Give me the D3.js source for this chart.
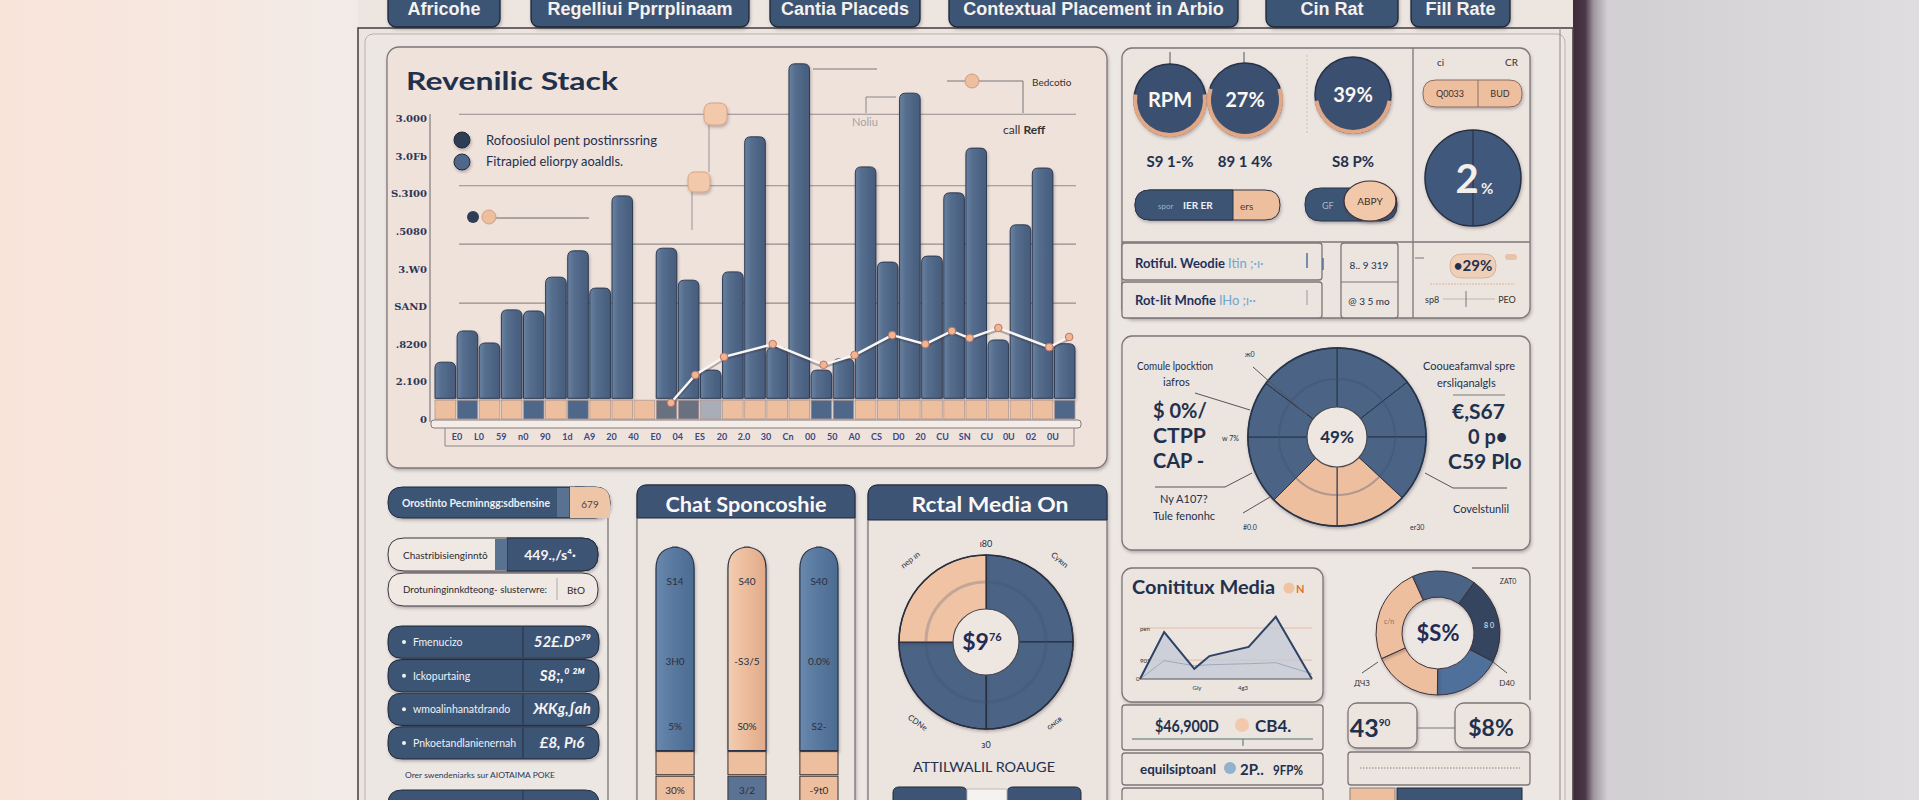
<!DOCTYPE html>
<html>
<head>
<meta charset="utf-8">
<script src="https://cdn.jsdelivr.net/npm/d3@7"></script>
<style>
  html, body { margin: 0; padding: 0; overflow: hidden; background: #ece5e0; }
  svg { display: block; font-family: Lato, "Open Sans", sans-serif; }
</style>
</head>
<body>
<div id="chart"></div>
<script>
// ---- data ----
const tabLabels = ["Africohe", "Regelliui Pprrplinaam", "Cantia Placeds", "Contextual Placement in Arbio", "Cin Rat", "Fill Rate"];

const stackTicks = ["0", "2.100", ".8200", "SAND", "3.W0", ".5080", "S.3I00", "3.0Fb", "3.000"];
const stackLabels = ["E0", "L0", "59", "n0", "90", "1d", "A9", "20", "40", "E0", "04", "ES", "20", "2.0", "30", "Cn", "00", "50", "A0", "CS", "D0", "20", "CU", "SN", "CU", "0U", "02", "0U"];
const stackBars = [1.51, 2.34, 2.02, 2.90, 2.87, 3.77, 4.47, 3.48, 5.93, 0, 4.54, 3.69, 1.3, 3.91, 7.50, 1.9, 9.44, 1.3, 1.6, 6.70, 4.17, 8.66, 4.33, 6.01, 7.20, 2.1, 5.16, 6.67, 2.0];
const stackBase = ["p", "b", "p", "p", "b", "p", "b", "p", "p", "p", "g", "g", "l", "p", "p", "p", "p", "b", "b", "p", "p", "p", "p", "p", "p", "p", "p", "p", "b"];
const stackGrid = [8.1, 6.2, 4.65, 3.08];
const lineSlots = [10.2, 11.3, 12.6, 14.8, 17.1, 18.5, 20.2, 21.7, 22.9, 23.7, 25.0, 27.3, 28.2];
const lineValues = [0.43, 1.17, 1.65, 1.99, 1.44, 1.70, 2.23, 1.99, 2.34, 2.15, 2.42, 1.91, 2.18];
const legendLabels = ["Rofoosiulol pent postinrssring", "Fitrapied eliorpy aoaldls."];

const kpiLabels = ["RPM", "27%", "39%"];
const kpiShares = [0.55, 0.6, 0.45];
const kpiSubs = ["S9 1-%", "89 1 4%", "S8 P%"];

const placeSlices = [52, 38, 43, 47, 45, 45, 37, 53];
const placeKinds = ["n", "n", "n", "p", "p", "n", "n", "n"];

const listHead = [["Orostinto Pecminngg:sdbensine", "679"], ["Chastribisienginntô", "449.,/s⁴·"], ["Drotuninginnkdteong- slusterwre:", "BtO"]];
const listLabels = ["Fmenucizo", "Ickopurtaing", "wmoalinhanatdrando", "Pnkoetandlanienernah"];
const listValues = ["52£.D°⁷⁹", "S8;,⁰ ²ᴹ", "ЖKg,∫ah", "£8, Pı6"];

const chatCols = ["A", "B", "C"];
const chatBase = [11.5, 11.5, 11.5];
const chatMid = [9.5, 9.5, 9.5];
const chatMain = [79, 79, 79];
const chatMainKind = ["b", "p", "b"];
const chatBaseKind = ["p", "n", "p"];
const chatText = [["S14", "3H0", "5%"], ["S40", "-S3/5", "S0%"], ["S40", "0.0%", "S2-"]];
const chatBaseText = ["30%", "3/2", "-9t0"];
const chatTextAt = [87, 56, 31];

const retailSlices = [25, 25, 25, 25];
const retailKinds = ["n", "n", "n", "p"];

const mediaX = [0, 8, 18, 23, 36, 45, 57];
const mediaY = [0, 92, 20, 45, 63, 122, 0];
const mediaY2 = [0, 36, 26, 28, 30, 32, 10];
const mediaTicks = [[37, "901"], [100, "pen"]];

const ringSlices = [60, 82, 63, 65, 90];
const ringKinds = ["n", "d", "b", "p", "p"];

// ---- setup ----
const W = 1919, H = 800;
const NAVY = "#3d5475", INK = "#22304c", LINE = "#7d7578", PANEL = "#ebe4df";
const PEACH = "#eebf9f", SLATE = "#4b6385", DARK = "#34445e";
const kindColor = { p: PEACH, b: "#4f6788", n: SLATE, g: "#69707f", l: "#a8adb8", d: DARK };

const svg = d3.select("#chart").append("svg").attr("width", W).attr("height", H);
const defs = svg.append("defs");

function grad(id, stops, x2 = 1, y2 = 0, x1 = 0) {
    const g = defs.append("linearGradient").attr("id", id)
        .attr("x1", x1).attr("y1", 0).attr("x2", x2).attr("y2", y2);
    stops.forEach(s => g.append("stop").attr("offset", s[0]).attr("stop-color", s[1]));
}
grad("bgLeft", [[0, "#f9e4da"], [0.6, "#f6e8e1"], [1, "#f1ebe7"]]);
grad("bgRight", [[0, "#3f2a3a"], [0.035, "#4a3646"], [0.06, "#9f97a0"], [0.1, "#d2cfd3"], [1, "#dfdde0"]]);
grad("barGrad", [[0, "#6a82a2"], [0.3, "#566e8e"], [1, "#465c7c"]]);
grad("steelGrad", [[0, "#6a89ae"], [0.4, "#5a7aa1"], [1, "#4d6b92"]]);
grad("peachGrad", [[0, "#f3cdb2"], [0.5, "#ecbb9b"], [1, "#e0aa89"]]);

const sh = defs.append("filter").attr("id", "soft").attr("x", "-10%").attr("y", "-10%").attr("width", "130%").attr("height", "130%");
sh.append("feDropShadow").attr("dx", 1).attr("dy", 2).attr("stdDeviation", 1.6)
    .attr("flood-color", "#3a2a35").attr("flood-opacity", 0.3);

function rr(x, y, w, h, a, b, c, d) {
    return `M${x + a},${y}H${x + w - b}Q${x + w},${y} ${x + w},${y + b}V${y + h - c}Q${x + w},${y + h} ${x + w - c},${y + h}` +
        `H${x + d}Q${x},${y + h} ${x},${y + h - d}V${y + a}Q${x},${y} ${x + a},${y}Z`;
}
function box(x, y, w, h, r, fill, stroke, shadow) {
    const b = svg.append("rect").attr("x", x).attr("y", y).attr("width", w).attr("height", h).attr("rx", r)
        .attr("fill", fill || PANEL).attr("stroke", stroke || LINE).attr("stroke-width", 1.3);
    if (shadow !== false) b.attr("filter", "url(#soft)");
    return b;
}
function txt(x, y, s, o = {}) {
    const t = svg.append("text").attr("x", x).attr("y", y).text(s)
        .attr("font-size", o.size || 11).attr("font-weight", o.weight || 400)
        .attr("fill", o.fill || INK).attr("text-anchor", o.anchor || "start");
    if (o.family) t.attr("font-family", o.family);
    if (o.len) t.attr("textLength", o.len).attr("lengthAdjust", "spacingAndGlyphs");
    if (o.rotate) t.attr("transform", `rotate(${o.rotate},${x},${y})`);
    return t;
}
function seg(pts, stroke, wdt) {
    svg.append("path").attr("d", d3.line()(pts)).attr("fill", "none")
        .attr("stroke", stroke || "#6b6668").attr("stroke-width", wdt || 1);
}

// ---- background & frame ----
svg.append("rect").attr("width", W).attr("height", H).attr("fill", "#ece5e0");
svg.append("rect").attr("width", 358).attr("height", H).attr("fill", "url(#bgLeft)");
svg.append("rect").attr("x", 1573).attr("width", W - 1573).attr("height", H).attr("fill", "url(#bgRight)");
svg.append("rect").attr("x", 358).attr("y", 28).attr("width", 1215).attr("height", 800)
    .attr("fill", PANEL).attr("stroke", "#4e4549").attr("stroke-width", 1.6);
svg.append("rect").attr("x", 365).attr("y", 34).attr("width", 1200).attr("height", 800).attr("rx", 8)
    .attr("fill", "#ede7e3").attr("stroke", "#b9b0ad");
svg.append("line").attr("x1", 1560).attr("x2", 1560).attr("y1", 28).attr("y2", H).attr("stroke", "#8f8589");

// ---- tabs ----
const tabSpans = [[388, 500], [531, 749], [770, 920], [949, 1238], [1266, 1398], [1411, 1510]];
tabLabels.forEach((t, i) => {
    const [a, b] = tabSpans[i];
    box(a, -8, b - a, 35, 8, NAVY, "#1d2638");
    txt((a + b) / 2, 15, t, { size: 18, weight: 700, fill: "#f4f1ee", anchor: "middle", family: "'Liberation Sans Narrow', 'Liberation Sans', sans-serif" });
});

// ---- Revenue stack chart ----
box(387, 47, 720, 421, 12, "#efe2db");
txt(406, 90, "Revenilic Stack", { size: 25, weight: 700, len: 212 });

const x = d3.scaleBand().domain(d3.range(stackBars.length)).range([435, 1075]).paddingInner(0.07);
const y = d3.scaleLinear().domain([0, 8]).range([419, 118]);
const bw = x.bandwidth();

// Draw Grid
svg.selectAll(".grid").data(stackGrid).enter().append("line")
    .attr("x1", 459).attr("x2", 1076).attr("y1", d => y(d)).attr("y2", d => y(d))
    .attr("stroke", "#7d7678").attr("stroke-width", 1.2).attr("opacity", 0.8);

svg.selectAll(".ytick").data(stackTicks).enter().append("text")
    .attr("x", 427).attr("y", (d, i) => y(i) + 4).attr("text-anchor", "end")
    .attr("font-size", 10).attr("font-weight", 700).attr("fill", "#2c3656")
    .attr("font-family", "'DejaVu Serif', serif").text(d => d);
svg.append("line").attr("x1", 430).attr("x2", 430).attr("y1", 114).attr("y2", 422).attr("stroke", "#6d6668");

// annotation bits
seg([[813, 69], [877, 69]], "#777");
seg([[947, 81], [1023, 81], [1023, 113]], "#777");
svg.append("circle").attr("cx", 972).attr("cy", 81).attr("r", 7).attr("fill", PEACH).attr("stroke", "#cf9a7d");
txt(1032, 86, "Bedcotio", { size: 10, fill: "#333" });
seg([[896, 97], [866, 97], [866, 113]], "#888");
txt(852, 126, "Noliu", { size: 11, fill: "#a6a3a6" });
svg.append("text").attr("x", 1003).attr("y", 134).attr("font-size", 12).attr("fill", "#333")
    .call(t => { t.append("tspan").text("call "); t.append("tspan").attr("font-weight", 700).text("Reff"); });

// Draw Bars
svg.selectAll(".bar").data(stackBars.map((v, i) => ({ v, i })).filter(d => d.v > 0)).enter().append("path")
    .attr("d", d => rr(x(d.i), y(d.v), bw, y(0.55) - y(d.v), 6, 6, 0, 0))
    .attr("fill", "url(#barGrad)").attr("stroke", "#2c3a52").attr("stroke-width", 1)
    .attr("filter", "url(#soft)");

svg.selectAll(".base").data(stackBase).enter().append("rect")
    .attr("x", (d, i) => x(i)).attr("y", y(0.5)).attr("width", bw).attr("height", y(0) - y(0.5))
    .attr("fill", d => kindColor[d]).attr("stroke", "#b09a94").attr("stroke-width", 0.8);

// axis band
svg.append("rect").attr("x", 431).attr("y", 420).attr("width", 650).attr("height", 8).attr("rx", 3)
    .attr("fill", "#f4ece7").attr("stroke", "#857b7e");
seg([[445, 428], [445, 446], [1074, 446], [1074, 428]], "#8d8487");
const xl = d3.scalePoint().domain(d3.range(stackLabels.length)).range([457, 1053]);
svg.selectAll(".xlab").data(stackLabels).enter().append("text")
    .attr("x", (d, i) => xl(i)).attr("y", 440).attr("text-anchor", "middle")
    .attr("font-size", 9).attr("font-weight", 700).attr("fill", "#3a4888").text(d => d);

// Draw Line
const lx = d3.scaleLinear().domain([0, stackBars.length - 1]).range([x(0) + bw / 2, x(stackBars.length - 1) + bw / 2]);
const pts = lineSlots.map((s, i) => [lx(s), y(lineValues[i])]);
svg.append("path").attr("d", d3.line()(pts)).attr("fill", "none").attr("stroke", "#3e3a44")
    .attr("stroke-width", 4).attr("opacity", 0.35).attr("transform", "translate(0,1.5)");
svg.append("path").attr("d", d3.line()(pts)).attr("fill", "none").attr("stroke", "#fbf7f4").attr("stroke-width", 2.4);
svg.selectAll(".dot").data(pts).enter().append("circle")
    .attr("cx", d => d[0]).attr("cy", d => d[1]).attr("r", 3.8)
    .attr("fill", "#f1b590").attr("stroke", "#b9756a").attr("stroke-width", 1);

// legend & pins
legendLabels.forEach((l, i) => {
    svg.append("circle").attr("cx", 462).attr("cy", 140 + i * 22).attr("r", 8)
        .attr("fill", i ? "#4f6889" : "#2d3c56").attr("stroke", "#1f2838").attr("filter", "url(#soft)");
    txt(486, 145 + i * 21, l, { size: 12.5, fill: "#243050", len: i ? 137 : 171 });
});
seg([[709, 125], [709, 172]], "#9a9294");
seg([[692, 192], [692, 230]], "#9a9294");
svg.append("rect").attr("x", 704).attr("y", 103).attr("width", 23).attr("height", 22).attr("rx", 7)
    .attr("fill", "#f3c9ab").attr("stroke", "#d7a283").attr("filter", "url(#soft)");
svg.append("rect").attr("x", 688).attr("y", 172).attr("width", 22).attr("height", 20).attr("rx", 6)
    .attr("fill", "#f3c9ab").attr("stroke", "#d7a283").attr("filter", "url(#soft)");
seg([[495, 218], [589, 218]], "#666");
svg.append("circle").attr("cx", 473).attr("cy", 217).attr("r", 6).attr("fill", "#2f3d56");
svg.append("circle").attr("cx", 489).attr("cy", 217).attr("r", 7).attr("fill", PEACH).attr("stroke", "#d2a184");

// ---- KPI panel ----
box(1122, 48, 408, 270, 10);
seg([[1413, 48], [1413, 318]], LINE, 1.3);
seg([[1122, 242], [1530, 242]], LINE, 1.3);
const kpiPos = [[1170, 100, 36], [1245, 100, 37], [1353, 95, 38]];
seg([[1170, 52], [1170, 66]], "#555");
seg([[1244, 52], [1244, 64]], "#555");
svg.append("line").attr("x1", 1307).attr("x2", 1307).attr("y1", 55).attr("y2", 135)
    .attr("stroke", "#c8c0bc").attr("stroke-dasharray", "2,2");
kpiLabels.forEach((k, i) => {
    const [cx, cy, r] = kpiPos[i];
    const g = svg.append("g").attr("transform", `translate(${cx},${cy})`);
    g.append("circle").attr("r", r).attr("fill", "#3a5071").attr("stroke", "#263248").attr("stroke-width", 1.5)
        .attr("filter", "url(#soft)");
    const a = d3.arc().innerRadius(r - 3).outerRadius(r + 1);
    g.append("path").attr("d", a({ startAngle: Math.PI * (1 - kpiShares[i]), endAngle: Math.PI * (1 + kpiShares[i]) }))
        .attr("fill", "#e2a886");
    g.append("text").attr("y", 7).attr("text-anchor", "middle").attr("font-size", 20).attr("font-weight", 700)
        .attr("fill", "#fbf7f3").text(k);
    txt(cx, 167, kpiSubs[i], { size: 15, weight: 700, anchor: "middle" });
});
// toggles
svg.append("path").attr("d", rr(1135, 190, 145, 30, 15, 15, 15, 15)).attr("fill", PEACH).attr("stroke", "#2b3549")
    .attr("filter", "url(#soft)");
svg.append("path").attr("d", rr(1135, 190, 98, 30, 15, 0, 0, 15)).attr("fill", NAVY).attr("stroke", "#2b3549");
txt(1158, 209, "spor", { size: 8, fill: "#9fb0c6" });
txt(1183, 209, "IER ER", { size: 10, weight: 700, fill: "#eef1f5" });
txt(1240, 210, "ers", { size: 10, fill: "#4a3a36" });
svg.append("path").attr("d", rr(1305, 188, 92, 33, 16, 16, 16, 16)).attr("fill", NAVY).attr("stroke", "#2b3549")
    .attr("filter", "url(#soft)");
txt(1322, 209, "GF", { size: 9, fill: "#a9b6c8" });
svg.append("ellipse").attr("cx", 1370).attr("cy", 201).attr("rx", 26).attr("ry", 20)
    .attr("fill", "#f1c8aa").attr("stroke", "#3b2f33").attr("stroke-width", 1.2).attr("filter", "url(#soft)");
txt(1370, 205, "ABPY", { size: 10, anchor: "middle", fill: "#3a2e2c" });

txt(1437, 66, "ci", { size: 10, fill: "#333" });
txt(1505, 66, "CR", { size: 10, fill: "#333" });
svg.append("path").attr("d", rr(1423, 80, 99, 27, 13, 13, 13, 13)).attr("fill", PEACH).attr("stroke", "#8a6e62")
    .attr("filter", "url(#soft)");
seg([[1478, 80], [1478, 107]], "#8a6e62");
txt(1450, 97, "Q0033", { size: 9, anchor: "middle", fill: "#3a302e" });
txt(1500, 97, "BUD", { size: 9, anchor: "middle", fill: "#3a302e" });
svg.append("circle").attr("cx", 1473).attr("cy", 178).attr("r", 48).attr("fill", "#41597b")
    .attr("stroke", "#262f40").attr("stroke-width", 1.5).attr("filter", "url(#soft)");
seg([[1473, 130], [1473, 226]], "#2a3446", 1.2);
txt(1467, 193, "2", { size: 40, weight: 700, anchor: "middle", fill: "#f3efea" });
txt(1481, 194, "%", { size: 15, weight: 700, fill: "#f3efea" });

// lower rows
box(1122, 243, 200, 37, 3, PANEL, LINE, false);
box(1122, 282, 200, 36, 3, PANEL, LINE, false);
svg.append("text").attr("x", 1135).attr("y", 268).attr("font-size", 13).attr("font-weight", 700).attr("fill", "#22305a")
    .call(t => { t.append("tspan").text("Rotiful. Weodie "); t.append("tspan").attr("fill", "#6ea6cf").attr("font-weight", 400).text("Itin ;·ı·"); });
svg.append("text").attr("x", 1135).attr("y", 305).attr("font-size", 13).attr("font-weight", 700).attr("fill", "#22305a")
    .call(t => { t.append("tspan").text("Rot-lit Mnofie "); t.append("tspan").attr("fill", "#6ea6cf").attr("font-weight", 400).text("lHo ;ɪ··"); });
seg([[1307, 253], [1307, 268]], "#4f6fa0", 1.5);
seg([[1323, 258], [1323, 270]], "#4f6fa0", 1.5);
seg([[1307, 290], [1307, 305]], "#999", 1);
box(1341, 243, 57, 75, 3, PANEL, LINE, false);
seg([[1341, 282], [1398, 282]], LINE);
txt(1369, 269, "8.. 9 319", { size: 10, anchor: "middle" });
txt(1369, 305, "@ 3 5 mo", { size: 10, anchor: "middle" });
svg.append("path").attr("d", rr(1450, 254, 46, 24, 12, 12, 12, 12)).attr("fill", "#efcfb7").attr("stroke", "#d7b39c");
txt(1473, 271, "•29%", { size: 15, weight: 700, anchor: "middle" });
svg.append("rect").attr("x", 1505).attr("y", 254).attr("width", 12).attr("height", 6).attr("rx", 3).attr("fill", "#e9c2a8");
seg([[1415, 258], [1424, 258]], "#777");
svg.append("line").attr("x1", 1430).attr("x2", 1515).attr("y1", 284).attr("y2", 284)
    .attr("stroke", "#e2b49a").attr("stroke-dasharray", "2,1");
txt(1425, 303, "sp8", { size: 9, fill: "#333" });
seg([[1443, 299], [1495, 299]], "#c8b3a8");
seg([[1466, 291], [1466, 307]], "#777");
txt(1507, 303, "PEO", { size: 9, anchor: "middle", fill: "#333" });

// ---- placement pie ----
box(1122, 336, 408, 214, 10);
const pg = svg.append("g").attr("transform", "translate(1337,437)");
const pie = d3.pie().sort(null).value(d => d);
pg.append("circle").attr("r", 90).attr("fill", SLATE).attr("filter", "url(#soft)");
pg.selectAll("path").data(pie(placeSlices)).enter().append("path")
    .attr("d", d3.arc().innerRadius(0).outerRadius(89))
    .attr("fill", (d, i) => kindColor[placeKinds[i]]).attr("stroke", "#2a3446").attr("stroke-width", 1);
pg.append("circle").attr("r", 58).attr("fill", "none").attr("stroke", "#3c5172").attr("stroke-width", 2).attr("opacity", 0.35);
pg.append("circle").attr("r", 89).attr("fill", "none").attr("stroke", "#2a3446").attr("stroke-width", 1.4);
pg.append("circle").attr("r", 30).attr("fill", "#eee6e1").attr("stroke", "#4b4a52").attr("stroke-width", 1.2);
pg.append("text").attr("y", 6).attr("text-anchor", "middle").attr("font-size", 17).attr("font-weight", 700)
    .attr("fill", INK).text("49%");
txt(1137, 370, "Comule lpocktion", { size: 12, len: 76 });
txt(1163, 386, "iafros", { size: 11 });
txt(1153, 418, "$ 0%/", { size: 20, weight: 700 });
txt(1153, 443, "CTPP", { size: 20, weight: 700, len: 53 });
txt(1153, 468, "CAP -", { size: 20, weight: 700 });
txt(1222, 441, "w 7%", { size: 7 });
txt(1160, 503, "Ny A107?", { size: 11 });
txt(1153, 520, "Tule fenonhc", { size: 11 });
txt(1243, 530, "#0.0", { size: 7 });
txt(1245, 357, "ж0", { size: 7 });
txt(1423, 370, "Cooueafamval spre", { size: 12, len: 92 });
txt(1437, 387, "ersliqanalgls", { size: 11 });
txt(1452, 419, "€,S67", { size: 21, weight: 700 });
txt(1468, 444, "0 p•", { size: 20, weight: 700 });
txt(1448, 469, "C59 Plo", { size: 21, weight: 700 });
txt(1453, 513, "Covelstunlil", { size: 11 });
txt(1410, 530, "er30", { size: 7 });
seg([[1195, 393], [1250, 410]], "#555");
seg([[1155, 487], [1225, 487], [1252, 473]], "#555");
seg([[1253, 367], [1307, 415]], "#555");
seg([[1243, 513], [1270, 497]], "#555");
seg([[1453, 395], [1505, 395]], "#777");
seg([[1425, 473], [1453, 488], [1507, 488]], "#555");

// ---- list panel ----
svg.append("path").attr("d", "M575,487 Q608,487 608,505 V815").attr("fill", "none").attr("stroke", LINE).attr("stroke-width", 1.3);
svg.append("path").attr("d", rr(388, 487, 222, 31, 15, 15, 15, 15)).attr("fill", NAVY).attr("stroke", "#202a3c").attr("filter", "url(#soft)");
svg.append("path").attr("d", rr(570, 487, 40, 31, 0, 15, 0, 0)).attr("fill", "#efc5a8");
svg.append("rect").attr("x", 557).attr("y", 488).attr("width", 12).attr("height", 29).attr("fill", "#5a7292");
txt(402, 507, listHead[0][0], { size: 10.5, weight: 700, fill: "#eef0f4", len: 148 });
txt(590, 508, listHead[0][1], { size: 10, anchor: "middle", fill: "#5b3d30" });

svg.append("path").attr("d", rr(388, 538, 210, 33, 16, 16, 16, 16)).attr("fill", "#efe8e3").attr("stroke", "#3a3a40").attr("filter", "url(#soft)");
svg.append("path").attr("d", rr(507, 538, 91, 33, 0, 16, 16, 0)).attr("fill", NAVY).attr("stroke", "#202a3c");
svg.append("rect").attr("x", 495).attr("y", 539).attr("width", 12).attr("height", 31).attr("fill", "#5a7292");
txt(403, 559, listHead[1][0], { size: 10, fill: "#2a2a30" });
txt(550, 560, listHead[1][1], { size: 14, weight: 700, anchor: "middle", fill: "#f2f2f5" });
svg.append("path").attr("d", rr(388, 573, 210, 33, 16, 16, 16, 16)).attr("fill", "#efe8e3").attr("stroke", "#3a3a40").attr("filter", "url(#soft)");
seg([[557, 578], [557, 600]], "#aaa");
txt(403, 593, listHead[2][0], { size: 10, fill: "#2a2a30", len: 144 });
txt(576, 594, listHead[2][1], { size: 10, anchor: "middle", fill: "#2a2a30" });

const ly = d3.scaleBand().domain(d3.range(listLabels.length)).range([626, 759]).paddingInner(0.04);
listLabels.forEach((l, i) => {
    const yy = ly(i), hh = ly.bandwidth();
    svg.append("path").attr("d", rr(388, yy, 211, hh, 14, 14, 14, 14)).attr("fill", NAVY).attr("stroke", "#1f2839")
        .attr("filter", "url(#soft)");
    seg([[523, yy + 1], [523, yy + hh - 1]], "#2a3448", 1.2);
    svg.append("circle").attr("cx", 404).attr("cy", yy + hh / 2).attr("r", 2).attr("fill", "#f1f1f4");
    txt(413, yy + hh / 2 + 4, l, { size: 10.5, fill: "#eef0f4" });
    txt(562, yy + hh / 2 + 5, listValues[i], { size: 15, weight: 700, anchor: "middle", fill: "#f4f4f6" })
        .attr("font-style", "italic");
});
txt(405, 778, "Orer  swendeniarks sur AIOTAIMA POKE", { size: 8, fill: "#2c3656", len: 150 });
svg.append("path").attr("d", rr(388, 790, 211, 40, 14, 14, 14, 14)).attr("fill", NAVY).attr("stroke", "#1f2839");
seg([[523, 791], [523, 800]], "#2a3448");

// ---- Chat sponsorship ----
box(637, 485, 218, 340, 10);
svg.append("path").attr("d", rr(637, 485, 218, 33, 10, 10, 0, 0)).attr("fill", NAVY).attr("stroke", "#1f2839");
txt(746, 512, "Chat Sponcoshie", { size: 21, weight: 700, anchor: "middle", fill: "#fbf8f5", len: 161 });
const cx = d3.scaleBand().domain(chatCols).range([656, 838]).paddingInner(0.47);
const cy = d3.scaleLinear().domain([0, 100]).range([806, 547]);
const cw = cx.bandwidth();
chatCols.forEach((c, i) => {
    const x0 = cx(c), b = chatBase[i], m = b + chatMid[i], t = m + chatMain[i];
    svg.append("path").attr("d", rr(x0, cy(t), cw, cy(m) - cy(t) - 1, 22, 22, 0, 0))
        .attr("fill", chatMainKind[i] === "p" ? "url(#peachGrad)" : "url(#steelGrad)")
        .attr("stroke", "#2a3346").attr("stroke-width", 1.2).attr("filter", "url(#soft)");
    svg.append("rect").attr("x", x0).attr("y", cy(m)).attr("width", cw).attr("height", cy(b) - cy(m) - 1.5)
        .attr("fill", PEACH).attr("stroke", "#3a3232").attr("stroke-width", 1);
    svg.append("rect").attr("x", x0).attr("y", cy(b)).attr("width", cw).attr("height", cy(0) - cy(b) + 20)
        .attr("fill", chatBaseKind[i] === "n" ? "#5a7395" : PEACH).attr("stroke", "#3a3232").attr("stroke-width", 1);
    chatText[i].forEach((s, j) => txt(x0 + cw / 2, cy(chatTextAt[j]) + 4, s, { size: 10, anchor: "middle", fill: "#2b2f3a" }));
    txt(x0 + cw / 2, cy(b) + 18, chatBaseText[i], { size: 10, anchor: "middle", fill: "#3a2c28" });
});

// ---- Retail media ----
box(868, 485, 239, 340, 10);
svg.append("path").attr("d", rr(868, 485, 239, 35, 10, 10, 0, 0)).attr("fill", NAVY).attr("stroke", "#1f2839");
txt(990, 512, "Rctal Media On", { size: 21, weight: 700, anchor: "middle", fill: "#fbf8f5", len: 157 });
const rg = svg.append("g").attr("transform", "translate(986,642)");
rg.selectAll("path").data(pie(retailSlices)).enter().append("path")
    .attr("d", d3.arc().innerRadius(0).outerRadius(87))
    .attr("fill", (d, i) => retailKinds[i] === "p" ? "#f0c3a4" : SLATE)
    .attr("stroke", "#222b3a").attr("stroke-width", 1.2).attr("filter", "url(#soft)");
rg.append("circle").attr("r", 60).attr("fill", "none").attr("stroke", "#3b4f6e").attr("stroke-width", 3).attr("opacity", 0.25);
rg.append("circle").attr("r", 87).attr("fill", "none").attr("stroke", "#2a2f3d").attr("stroke-width", 1.5);
rg.append("circle").attr("r", 33).attr("fill", "#eee6e1").attr("stroke", "#4a4a52").attr("stroke-width", 1.2);
rg.append("text").attr("x", -4).attr("y", 8).attr("text-anchor", "middle").attr("font-size", 23).attr("font-weight", 700)
    .attr("fill", "#1f2c55").call(t => { t.append("tspan").text("$9"); t.append("tspan").attr("font-size", 11).attr("dy", -9).text("76"); });
txt(986, 547, "ɪ80", { size: 9, anchor: "middle" });
txt(986, 748, "ɜ0", { size: 9, anchor: "middle" });
txt(912, 562, "nep ɪn", { size: 8, anchor: "middle", rotate: -38 });
txt(1058, 562, "Cyʀɪn", { size: 8, anchor: "middle", rotate: 40 });
txt(916, 725, "CDNe", { size: 8, anchor: "middle", rotate: 35 });
txt(1056, 725, "ɢɴɢʀ", { size: 8, anchor: "middle", rotate: -38 });
txt(984, 772, "ATTILWALIL ROAUGE", { size: 13, anchor: "middle", fill: "#243050", len: 142 });
svg.append("path").attr("d", rr(893, 787, 74, 30, 6, 6, 0, 0)).attr("fill", NAVY).attr("stroke", "#1f2839");
svg.append("path").attr("d", rr(1007, 787, 74, 30, 6, 6, 0, 0)).attr("fill", NAVY).attr("stroke", "#1f2839");
svg.append("rect").attr("x", 967).attr("y", 789).attr("width", 40).attr("height", 30).attr("fill", "#f6f2ef").attr("stroke", "#bbb");

// ---- Contextual media area ----
box(1122, 568, 201, 134, 10);
txt(1132, 594, "Conititux Media", { size: 18, weight: 700, len: 143 });
svg.append("circle").attr("cx", 1289).attr("cy", 588).attr("r", 5.5).attr("fill", "#f1c3a0");
txt(1296, 593, "N", { size: 11, weight: 700, fill: "#e2702e" });
const mx = d3.scaleLinear().domain([0, 57]).range([1140, 1312]);
const my = d3.scaleLinear().domain([0, 100]).range([679, 628]);
mediaTicks.forEach(t => {
    seg([[1140, my(t[0])], [1312, my(t[0])]], "#e7b9a7");
    txt(1140, my(t[0]) + 3, t[1], { size: 6, fill: "#333" });
});
txt(1136, 681, "0", { size: 6, fill: "#333" });
const area = d3.area().x((d, i) => mx(mediaX[i])).y0(my(0)).y1(d => my(d));
svg.append("path").attr("d", area(mediaY)).attr("fill", "#c3c9d6").attr("opacity", 0.75);
svg.append("path").attr("d", d3.line().x((d, i) => mx(mediaX[i])).y(d => my(d))(mediaY2))
    .attr("fill", "none").attr("stroke", "#9ea9bf").attr("stroke-width", 1);
svg.append("path").attr("d", d3.line().x((d, i) => mx(mediaX[i])).y(d => my(d))(mediaY))
    .attr("fill", "none").attr("stroke", "#2e4266").attr("stroke-width", 2);
seg([[1140, 679], [1312, 679]], "#555");
txt(1197, 690, "Gly", { size: 6, anchor: "middle", fill: "#333" });
txt(1243, 690, "4g3", { size: 6, anchor: "middle", fill: "#333" });

box(1122, 705, 201, 45, 3, PANEL, LINE, false);
txt(1155, 732, "$46,900D", { size: 17, weight: 700, len: 64 });
svg.append("circle").attr("cx", 1242).attr("cy", 725).attr("r", 7).attr("fill", "#f2c9ad");
txt(1255, 732, "CB4.", { size: 17, weight: 700 });
seg([[1132, 739], [1313, 739]], "#4f7463", 1.2);
seg([[1243, 739], [1243, 746]], "#4f7463");
box(1122, 753, 201, 32, 3, PANEL, LINE, false);
txt(1140, 774, "equilsiptoanl", { size: 13, weight: 700, len: 76 });
svg.append("circle").attr("cx", 1230).attr("cy", 768).attr("r", 6).attr("fill", "#92b1cd");
txt(1240, 775, "2P..", { size: 15, weight: 700 });
txt(1273, 775, "9FP%", { size: 13, weight: 700, len: 30 });
box(1122, 788, 201, 40, 3, PANEL, LINE, false);

// ---- ring donut ----
svg.append("path").attr("d", "M1472,568 H1520 Q1530,568 1530,578 V700").attr("fill", "none").attr("stroke", LINE).attr("stroke-width", 1.3);
const dg = svg.append("g").attr("transform", "translate(1438,633)");
const ringPie = d3.pie().sort(null).value(d => d).startAngle(-0.426).endAngle(2 * Math.PI - 0.426);
dg.selectAll("path").data(ringPie(ringSlices)).enter().append("path")
    .attr("d", d3.arc().innerRadius(36).outerRadius(62))
    .attr("fill", (d, i) => ringKinds[i] === "b" ? "#50709a" : kindColor[ringKinds[i]])
    .attr("stroke", "#3b3036").attr("stroke-width", 1).attr("filter", "url(#soft)");
dg.append("text").attr("y", 8).attr("text-anchor", "middle").attr("font-size", 22).attr("font-weight", 700)
    .attr("fill", "#1f2c55").text("$S%");
txt(1508, 584, "ZAT0", { size: 7, anchor: "middle", fill: "#333" });
txt(1489, 628, "8 0", { size: 7, anchor: "middle", fill: "#f2f2f2" });
txt(1389, 624, "c/n", { size: 7, anchor: "middle", fill: "#8a6e62" });
txt(1362, 686, "ДЧЗ", { size: 8, anchor: "middle", fill: "#333" });
txt(1507, 686, "D40", { size: 8, anchor: "middle", fill: "#333" });
seg([[1362, 673], [1378, 662]], "#555");
seg([[1507, 673], [1493, 662]], "#555");

box(1348, 703, 69, 45, 9);
box(1455, 703, 75, 45, 9);
seg([[1417, 728], [1455, 728]], "#777");
svg.append("text").attr("x", 1370).attr("y", 737).attr("text-anchor", "middle").attr("font-size", 25).attr("font-weight", 700)
    .attr("fill", INK).call(t => { t.append("tspan").text("43"); t.append("tspan").attr("font-size", 10).attr("dy", -11).text("90"); });
txt(1491, 736, "$8%", { size: 23, weight: 700, anchor: "middle" });
box(1348, 752, 182, 33, 3, PANEL, LINE, false);
svg.append("line").attr("x1", 1360).attr("x2", 1520).attr("y1", 768).attr("y2", 768)
    .attr("stroke", "#8c8486").attr("stroke-dasharray", "1.5,1.5");
svg.append("rect").attr("x", 1350).attr("y", 788).attr("width", 45).attr("height", 30).attr("fill", PEACH).attr("stroke", "#8a7a74");
svg.append("rect").attr("x", 1397).attr("y", 788).attr("width", 125).attr("height", 30).attr("fill", NAVY).attr("stroke", "#1f2839");
</script>
</body>
</html>
